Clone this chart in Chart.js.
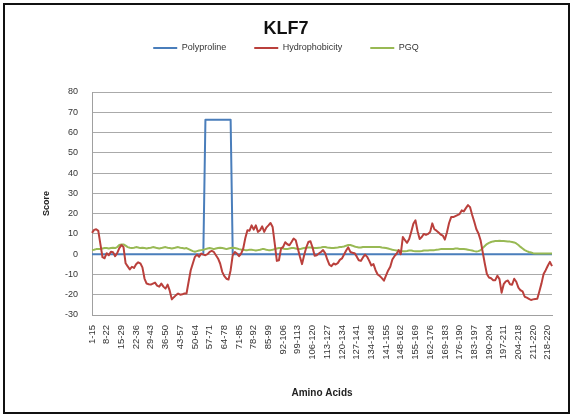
<!DOCTYPE html>
<html>
<head>
<meta charset="utf-8">
<script src="https://cdn.jsdelivr.net/npm/chart.js@4.4.1/dist/chart.umd.min.js"></script>
<style>
  html, body { margin: 0; padding: 0; background: #fff; }
  #wrap { position: relative; width: 573px; height: 417px; }
  #wrap canvas { position: absolute; left: 0; top: 0; }
  #frame { position: absolute; left: 3px; top: 3px; width: 567px; height: 411px;
           border: 2px solid #111; box-sizing: border-box; pointer-events: none; }
</style>
</head>
<body>
<div id="wrap">
  <canvas id="chart" width="573" height="417"></canvas>
  <div id="frame"></div>
</div>
<script>
// Sliding 15-residue windows over the 220-residue KLF7 sequence
const windowCount = 220;
const windowSize = 15;
const categories = [];
for (let s = 1; s <= windowCount; s++) {
  categories.push(s + '-' + Math.min(s + windowSize - 1, windowCount));
}
const labelEvery = 7;

const yTicks = { min: -30, max: 80, step: 10 };

const polyproline = [
  0, 0, 0, 0, 0, 0, 0, 0, 0, 0,
  0, 0, 0, 0, 0, 0, 0, 0, 0, 0,
  0, 0, 0, 0, 0, 0, 0, 0, 0, 0,
  0, 0, 0, 0, 0, 0, 0, 0, 0, 0,
  0, 0, 0, 0, 0, 0, 0, 0, 0, 0,
  0, 0, 0, 0, 66.3, 66.3, 66.3, 66.3, 66.3, 66.3,
  66.3, 66.3, 66.3, 66.3, 66.3, 66.3, 66.3, 0, 0, 0,
  0, 0, 0, 0, 0, 0, 0, 0, 0, 0,
  0, 0, 0, 0, 0, 0, 0, 0, 0, 0,
  0, 0, 0, 0, 0, 0, 0, 0, 0, 0,
  0, 0, 0, 0, 0, 0, 0, 0, 0, 0,
  0, 0, 0, 0, 0, 0, 0, 0, 0, 0,
  0, 0, 0, 0, 0, 0, 0, 0, 0, 0,
  0, 0, 0, 0, 0, 0, 0, 0, 0, 0,
  0, 0, 0, 0, 0, 0, 0, 0, 0, 0,
  0, 0, 0, 0, 0, 0, 0, 0, 0, 0,
  0, 0, 0, 0, 0, 0, 0, 0, 0, 0,
  0, 0, 0, 0, 0, 0, 0, 0, 0, 0,
  0, 0, 0, 0, 0, 0, 0, 0, 0, 0,
  0, 0, 0, 0, 0, 0, 0, 0, 0, 0,
  0, 0, 0, 0, 0, 0, 0, 0, 0, 0,
  0, 0, 0, 0, 0, 0, 0, 0, 0, 0
];

const hydrophobicity = [
  10.5, 12, 12.3, 11.5, 5, -1.5, -2, 0.5, -0.5, 1.2,
  1, -1, 0.5, 3, 4.5, 3.5, -4.5, -6, -7.5, -6.2,
  -6.8, -5, -4, -4.5, -6.5, -12, -14.5, -14.8, -15, -14.5,
  -14, -15.5, -16, -14.5, -16, -17, -15, -18, -22.3, -21.2,
  -20.2, -19.4, -20, -19.8, -19.4, -19.4, -13.6, -7.9, -4.6, -1.3,
  -0.2, -1.3, 0.3, -0.2, -0.5, 0, 1.1, 1.6, 1.1, -0.5,
  -2.1, -4.6, -8.7, -10.8, -12.1, -12.5, -7.9, -0.5, 1.1, 0.3,
  -1, 0.3, 2.8, 8, 11.8, 11.6, 14.2, 12.1, 14.2, 11,
  11.8, 13.7, 11, 13.1, 14.2, 15.4, 13.4, 5.2, -3.3, -3,
  2.8, 3.6, 5.9, 4.9, 4.4, 6, 7.7, 6.9, 2.8, -1.3,
  -4.9, -0.5, 3.3, 6, 6.4, 3.3, -0.8, -0.5, 0.3, 1.1,
  2, 0.5, -2.6, -5.2, -5.9, -4.6, -5.1, -4.4, -2.8, -2.1,
  -0.2, 1.8, 3.4, 1.1, 0.7, 0.5, -1.1, -3, -3.3, -1.6,
  -0.2, -1.3, -3.3, -5.6, -4.9, -7.9, -10, -10.8, -11.8, -13.1,
  -10.5, -8, -6.2, -2.6, -1, 0.2, 2, 0, 8.5, 6.9,
  5.6, 7.5, 11.1, 15, 16.7, 11.3, 7.5, 8.5, 10, 9.5,
  10, 11, 15.2, 12.3, 11.6, 10.7, 9.7, 9.2, 7.2, 10.8,
  15.4, 18.3, 18.3, 18.8, 19.3, 19.8, 21.6, 21.1, 22.7, 24.2,
  23.2, 19.3, 16, 12.3, 10.2, 6.9, 1.1, -4.6, -9.8, -11.5,
  -11.9, -12.8, -12.8, -10.6, -12.3, -19, -14.8, -13.4, -13, -14.8,
  -15.1, -12.1, -13.6, -16.5, -17.8, -18.3, -21, -21.4, -22, -22.6,
  -22.3, -22.1, -22, -18.3, -14.4, -9.8, -7.9, -5.7, -3.8, -5.9
];

const pgq = [
  2.0, 2.2, 2.5, 2.5, 2.5, 2.8, 3.0, 3.0, 2.8, 3.0,
  3.2, 3.0, 3.5, 4.5, 4.8, 4.8, 4.2, 3.5, 3.2, 3.0,
  3.2, 3.5, 3.3, 3.0, 3.2, 3.0, 2.8, 3.0, 3.2, 3.5,
  3.3, 3.0, 2.8, 3.0, 3.3, 3.5, 3.2, 3.0, 2.8, 3.0,
  3.3, 3.5, 3.2, 3.0, 2.8, 3.0, 2.5, 2.0, 1.5, 1.2,
  1.5, 1.8, 2.0, 2.2, 2.5, 2.8, 3.0, 2.8, 2.5, 2.8,
  3.0, 3.2, 3.0, 2.8, 2.5, 2.8, 3.0, 3.2, 3.0, 2.8,
  2.5, 2.3, 2.2, 2.0, 2.0, 2.2, 2.2, 2.0, 1.8, 2.0,
  2.2, 2.5, 2.5, 2.2, 2.0, 2.0, 2.2, 2.5, 2.8, 3.0,
  3.0, 2.8, 2.5, 2.5, 2.8, 3.0, 3.0, 2.8, 2.5, 2.5,
  2.8, 3.0, 3.2, 3.3, 3.3, 3.2, 3.0, 3.0, 3.2, 3.3,
  3.5, 3.5, 3.3, 3.2, 3.0, 3.0, 3.2, 3.3, 3.5, 3.6,
  3.8, 4.2, 4.5, 4.5, 4.2, 3.8, 3.5, 3.3, 3.3, 3.5,
  3.6, 3.6, 3.5, 3.5, 3.6, 3.6, 3.5, 3.5, 3.3, 3.2,
  3.0, 2.8, 2.5, 2.2, 2.0, 1.8, 1.8, 1.6, 1.5, 1.5,
  1.6, 1.8, 1.8, 1.6, 1.5, 1.5, 1.5, 1.6, 1.8, 1.8,
  1.8, 2.0, 2.0, 2.0, 2.2, 2.3, 2.5, 2.5, 2.6, 2.6,
  2.5, 2.5, 2.6, 2.8, 2.8, 2.6, 2.5, 2.5, 2.4, 2.2,
  2.0, 1.8, 1.5, 1.3, 1.5, 2.0, 3.0, 4.0, 5.0, 5.6,
  6.0, 6.3, 6.5, 6.5, 6.6, 6.5, 6.5, 6.4, 6.3, 6.2,
  6.0, 5.8, 5.3, 4.5, 3.6, 2.8, 2.0, 1.5, 1.1, 0.8,
  0.5, 0.3, 0.3, 0.3, 0.3, 0.3, 0.3, 0.3, 0.3, 0.3
];

const seriesColors = { polyproline: '#4A7EBB', hydrophobicity: '#BA403C', pgq: '#98B954' };

Chart.defaults.font.family = "'Liberation Sans', Arial, Helvetica, sans-serif";
Chart.defaults.color = '#333';

// Empty layout box that keeps a gap between the legend row and the plot
const legendGapHeight = 29.5;
const legendGap = {
  id: 'legendGap',
  beforeInit(chart) {
    const box = {
      position: 'top', weight: 0, fullSize: true, options: {},
      isHorizontal() { return true; },
      update(maxWidth) { this.width = maxWidth; this.height = legendGapHeight; },
      draw() {}
    };
    if (Chart.layouts && Chart.layouts.addBox) {
      Chart.layouts.addBox(chart, box);
    } else {
      box._layers = () => [{ z: 0, draw() {} }];
      chart.boxes.push(box);
    }
  }
};

function lineSet(label, data, color, order) {
  return {
    label, data, order,
    borderColor: color, backgroundColor: color,
    borderWidth: 2, pointRadius: 0, pointHoverRadius: 0,
    tension: 0, fill: false, borderJoinStyle: 'round'
  };
}

new Chart(document.getElementById('chart'), {
  type: 'line',
  data: {
    labels: categories,
    datasets: [
      lineSet('Polyproline', polyproline, seriesColors.polyproline, 2),
      lineSet('Hydrophobicity', hydrophobicity, seriesColors.hydrophobicity, 0),
      lineSet('PGQ', pgq, seriesColors.pgq, 1)
    ]
  },
  plugins: [legendGap],
  options: {
    responsive: false,
    animation: false,
    devicePixelRatio: 1,
    layout: { padding: { top: 0, left: 20, right: 21, bottom: 14 } },
    plugins: {
      tooltip: { enabled: false },
      title: {
        display: true, text: 'KLF7', color: '#111',
        font: { size: 18, weight: 'bold' },
        padding: { top: 18, bottom: -24.1 }
      },
      legend: {
        display: true,
        labels: {
          boxWidth: 24, boxHeight: 2, padding: 28,
          font: { size: 9 }, color: '#333',
          sort: (a, b) => a.datasetIndex - b.datasetIndex,
          generateLabels(chart) {
            return Chart.defaults.plugins.legend.labels.generateLabels(chart)
              .map(item => Object.assign(item, { lineWidth: 0 }));
          }
        }
      }
    },
    scales: {
      x: {
        type: 'category',
        offset: false,
        grid: { display: false },
        border: { display: true, color: '#a0a0a0', width: 1 },
        ticks: {
          autoSkip: false, minRotation: 90, maxRotation: 90,
          padding: 2, font: { size: 9.5 }, color: '#333',
          callback(value, index) {
            return index % labelEvery === 0 ? this.getLabelForValue(value) : '';
          }
        },
        title: {
          display: true, text: 'Amino Acids', color: '#222',
          font: { size: 10, weight: 'bold' },
          padding: { top: 0, bottom: 4 }
        },
        afterFit(scale) { scale.height = 88; }
      },
      y: {
        min: yTicks.min, max: yTicks.max,
        grid: { color: '#aaaaaa', lineWidth: 1, drawTicks: false },
        border: { display: true, color: '#a0a0a0', width: 1 },
        ticks: { stepSize: yTicks.step, padding: 14, font: { size: 9 }, color: '#333' },
        title: {
          display: true, text: 'Score', color: '#222',
          font: { size: 9, weight: 'bold' },
          padding: { top: 21, bottom: 0 }
        },
        afterFit(scale) { scale.width = 72; }
      }
    }
  }
});
</script>
</body>
</html>
